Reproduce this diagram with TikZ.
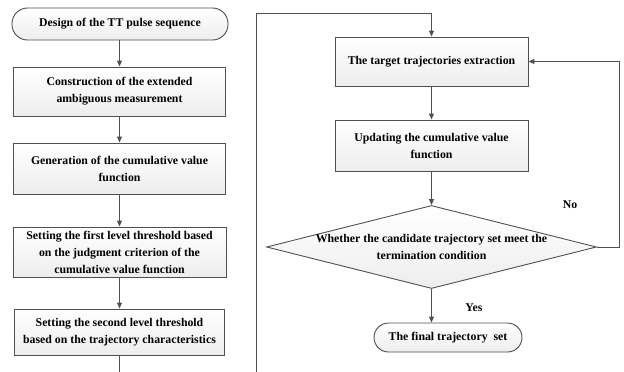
\documentclass[tikz,border=0pt]{standalone}
\usepackage{fontspec}
\setmainfont{Liberation Serif}
\usetikzlibrary{arrows.meta,shapes.geometric}
\definecolor{edgegray}{HTML}{505050}
\tikzset{
  box/.style={draw=edgegray, line width=0.9pt, top color=white, bottom color=gray!14, align=center, inner sep=0pt, font=\fontsize{11.8}{17}\selectfont\bfseries},
  term/.style={box, rounded corners=#1},
  lbl/.style={font=\fontsize{11.8}{17}\selectfont\bfseries, inner sep=0pt},
  conn/.style={draw=edgegray, line width=0.9pt},
  arr/.style={conn, -{Triangle[length=6pt,width=5pt]}}
}
\begin{document}
\begin{tikzpicture}[x=1pt,y=-1pt]
\useasboundingbox (0,0) rectangle (624,372);
\fill[white] (0,0) rectangle (624,372);
% left column
\node[term=15.5pt, minimum width=216pt, minimum height=32pt] (start) at (120,24) {Design of the TT pulse sequence};
\node[box, minimum width=212pt, minimum height=49pt] (b2) at (119.5,91.5) {Construction of the extended\\ambiguous measurement};
\node[box, minimum width=212pt, minimum height=51pt] (b3) at (119.5,168.5) {Generation of the cumulative value\\function};
\node[box, minimum width=213pt, minimum height=50pt] (b4) at (119.5,252) {Setting the first level threshold based\\on the judgment criterion of the\\cumulative value function};
\node[box, minimum width=210pt, minimum height=46pt] (b5) at (119.5,332) {Setting the second level threshold\\based on the trajectory characteristics};
\coordinate (lend) at (119.5,372);
\draw[arr] (start.south -| b2.north) -- (b2.north);
\draw[arr] (b2) -- (b3);
\draw[arr] (b3) -- (b4);
\draw[arr] (b4) -- (b5);
\draw[conn] (b5.south) -- (lend);
% right column
\node[box, minimum width=193pt, minimum height=49pt] (t1) at (431.5,61.5) {The target trajectories extraction};
\node[box, minimum width=193pt, minimum height=51pt] (t2) at (431.5,145.5) {Updating the cumulative value\\function};
\node[draw=edgegray, line width=0.9pt, top color=white, bottom color=gray!14, shape=diamond, minimum width=330pt, minimum height=83pt, inner sep=0pt] (d) at (431.5,247) {};
\node[lbl, align=center] (dt) at (d.center) {Whether the candidate trajectory set meet the\\termination condition};
\node[term=14.5pt, minimum width=148pt, minimum height=29pt] (fin) at (448,337.5) {The final trajectory\ \ set};
\coordinate (rb) at (256,372);
\coordinate (rt) at (256,13);
\coordinate (rr) at (619,247);
\draw[arr] (rb) -- (rt) -- (rt -| t1.north) -- (t1.north);
\draw[arr] (t1) -- (t2);
\draw[arr] (t2) -- (d.north);
\draw[arr] (d.east) -- (rr) |- (t1.east);
\draw[arr] (d.south) -- (d.south |- fin.north);
\node[lbl] (no) at (570,205) {No};
\node[lbl] (yes) at (474,308) {Yes};
\end{tikzpicture}
\end{document}
